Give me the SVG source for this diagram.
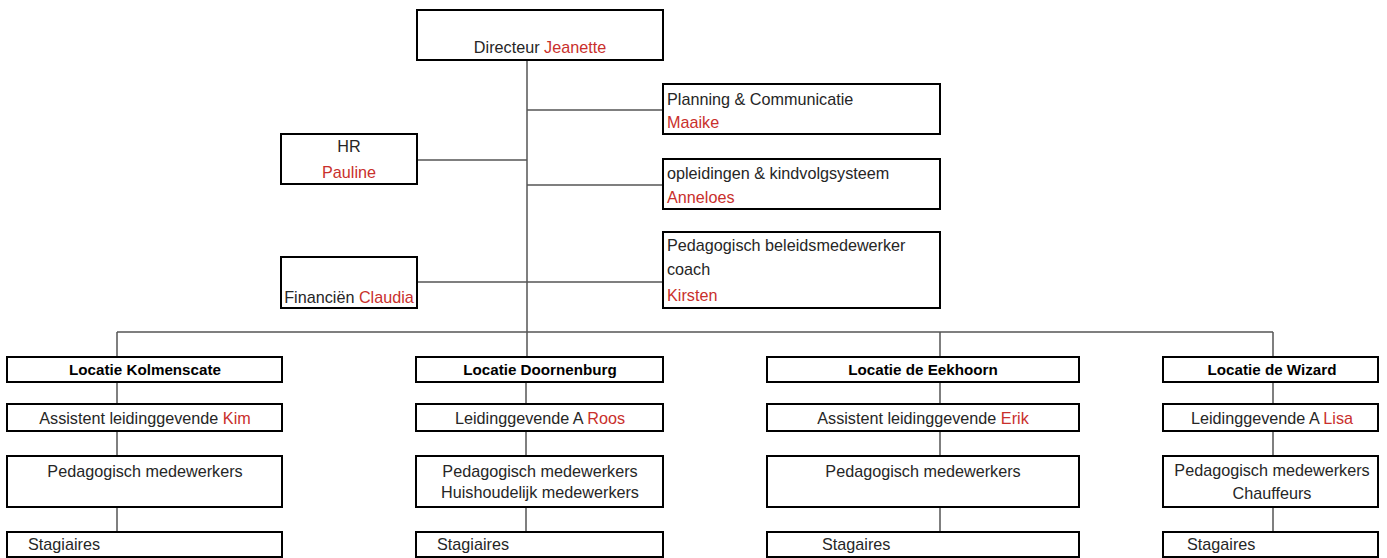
<svg xmlns="http://www.w3.org/2000/svg" width="1387" height="558" viewBox="0 0 1387 558">
<style>
.box{fill:#fff;stroke:#000;stroke-width:2}
.ln{stroke:#555;stroke-width:1.5;fill:none}
text{font-family:"Liberation Sans",Arial,sans-serif;font-size:16.2px;fill:#262626}
.b{font-weight:bold;font-size:15.2px;fill:#000}
.m{text-anchor:middle}
.r{fill:#c9302c}
</style>
<rect width="1387" height="558" fill="#fff"/>
<g id="connectors">
<path class="ln" d="M527 60V332M527 110H663M417 160H527M527 185H663M417 282H663M117 332H1273M117 332V357M527 332V357M940 332V357M1273 332V357"/>
<path class="ln" d="M117 382V404M117 431V456M117 507V532M526 382V404M526 431V456M526 507V532M940 382V404M940 431V456M940 507V532M1273 382V404M1273 431V456M1273 507V532"/>
</g>
<g id="directeur"><rect class="box" x="417" y="10" width="246" height="50"/><text class="m" x="540" y="53">Directeur <tspan class="r">Jeanette</tspan></text></g>
<g id="planning"><rect class="box" x="663" y="84" width="277" height="50"/><text x="667" y="105">Planning &amp; Communicatie</text><text class="r" x="667" y="128">Maaike</text></g>
<g id="hr"><rect class="box" x="281" y="134" width="136" height="50"/><text class="m" x="349" y="152">HR</text><text class="m r" x="349" y="178">Pauline</text></g>
<g id="opleidingen"><rect class="box" x="663" y="159" width="277" height="50"/><text x="667" y="179">opleidingen &amp; kindvolgsysteem</text><text class="r" x="667" y="203">Anneloes</text></g>
<g id="beleid"><rect class="box" x="663" y="232" width="277" height="76"/><text x="667" y="251">Pedagogisch beleidsmedewerker</text><text x="667" y="275">coach</text><text class="r" x="667" y="301">Kirsten</text></g>
<g id="financien"><rect class="box" x="281" y="257" width="136" height="51"/><text class="m" x="349" y="303">Financiën <tspan class="r">Claudia</tspan></text></g>

<g id="kolmenscate"><rect class="box" x="7" y="357" width="275" height="25"/><text class="m b" x="145" y="375">Locatie Kolmenscate</text></g>
<g id="kim"><rect class="box" x="7" y="404" width="275" height="27"/><text class="m" x="145" y="424">Assistent leidinggevende <tspan class="r">Kim</tspan></text></g>
<g id="ped1"><rect class="box" x="7" y="456" width="275" height="51"/><text class="m" x="145" y="477">Pedagogisch medewerkers</text></g>
<g id="stag1"><rect class="box" x="7" y="532" width="275" height="25"/><text x="28" y="550">Stagiaires</text></g>

<g id="doornenburg"><rect class="box" x="416" y="357" width="247" height="25"/><text class="m b" x="540" y="375">Locatie Doornenburg</text></g>
<g id="roos"><rect class="box" x="416" y="404" width="247" height="27"/><text class="m" x="540" y="424">Leidinggevende A <tspan class="r">Roos</tspan></text></g>
<g id="ped2"><rect class="box" x="416" y="456" width="247" height="51"/><text class="m" x="540" y="477">Pedagogisch medewerkers</text><text class="m" x="540" y="498">Huishoudelijk medewerkers</text></g>
<g id="stag2"><rect class="box" x="416" y="532" width="247" height="25"/><text x="437" y="550">Stagiaires</text></g>

<g id="eekhoorn"><rect class="box" x="767" y="357" width="312" height="25"/><text class="m b" x="923" y="375">Locatie de Eekhoorn</text></g>
<g id="erik"><rect class="box" x="767" y="404" width="312" height="27"/><text class="m" x="923" y="424">Assistent leidinggevende <tspan class="r">Erik</tspan></text></g>
<g id="ped3"><rect class="box" x="767" y="456" width="312" height="51"/><text class="m" x="923" y="477">Pedagogisch medewerkers</text></g>
<g id="stag3"><rect class="box" x="767" y="532" width="312" height="25"/><text x="822" y="550">Stagaires</text></g>

<g id="wizard"><rect class="box" x="1163" y="357" width="215" height="25"/><text class="m b" x="1272" y="375">Locatie de Wizard</text></g>
<g id="lisa"><rect class="box" x="1163" y="404" width="215" height="27"/><text class="m" x="1272" y="424">Leidinggevende A <tspan class="r">Lisa</tspan></text></g>
<g id="ped4"><rect class="box" x="1163" y="456" width="215" height="51"/><text class="m" x="1272" y="476">Pedagogisch medewerkers</text><text class="m" x="1272" y="499">Chauffeurs</text></g>
<g id="stag4"><rect class="box" x="1163" y="532" width="215" height="25"/><text x="1187" y="550">Stagaires</text></g>
</svg>
